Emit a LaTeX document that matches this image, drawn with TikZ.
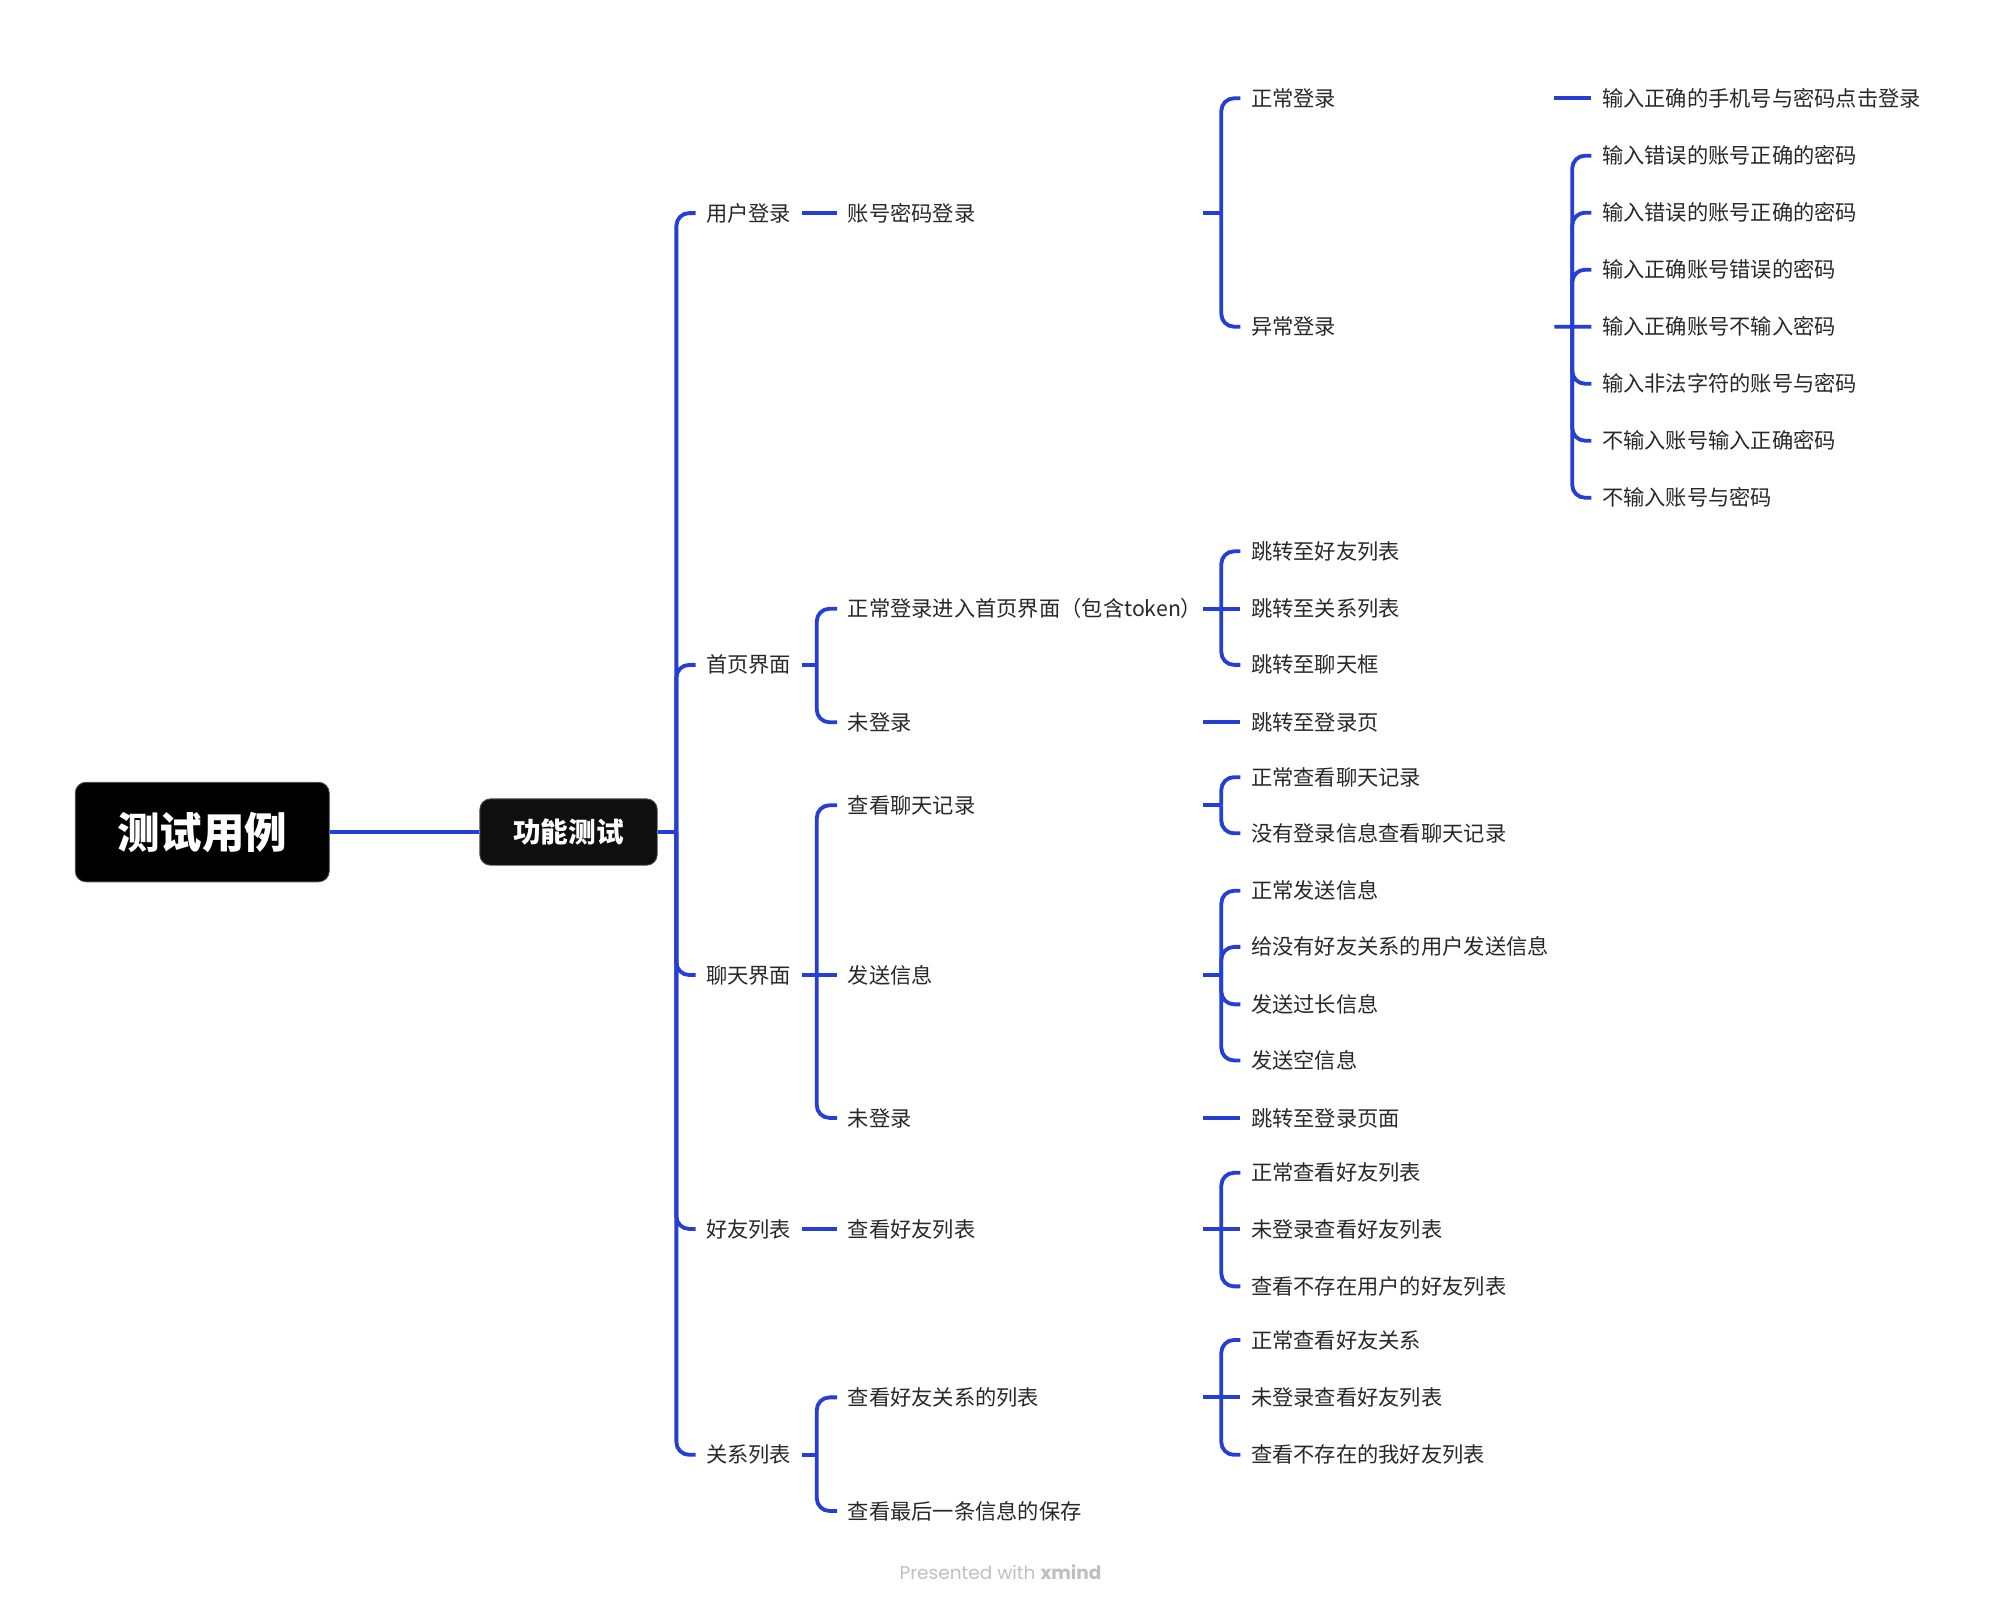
\documentclass[tikz,border=0pt]{standalone}
\usepackage{fontspec}
\setmainfont{Noto Sans CJK SC}
\newfontfamily\brandfont{Poppins}
\usepackage{tikz}
\usetikzlibrary{calc}
\definecolor{XmindBlue}{RGB}{36,62,214}
\definecolor{TopicGray}{RGB}{40,40,40}

\begin{document}
\begin{tikzpicture}[x=0.6pt,y=-0.6pt,
	topic/.style={anchor=west,inner xsep=4.8pt,inner ysep=0pt,text=TopicGray,
		font=\fontsize{10}{12}\selectfont,text height=0.88em,text depth=0.12em},
	branch/.style={XmindBlue,line width=1.8pt,rounded corners=6pt},
	mainbox/.style={fill=black,draw=black!70,rounded corners=5pt,text=white,inner sep=0pt}]
\useasboundingbox (0,0) rectangle (1568,1260);
% central topics
\node[mainbox,minimum width=119.4pt,minimum height=46.8pt,font=\fontsize{20}{24}\selectfont\bfseries] (root) at (158.5,652) {测试用例};
\node[mainbox,fill=black!94,minimum width=83.4pt,minimum height=31.2pt,font=\fontsize{13}{16}\selectfont\bfseries] (func) at (445.5,652) {功能测试};
% bracket columns
\coordinate (b2) at (530,0);
\coordinate (b3) at (640,0);
\coordinate (s4) at (943,0);
\coordinate (b4) at (957,0);
\coordinate (s5) at (1218,0);
\coordinate (b5) at (1232,0);
% level 2
\node[topic] (login) at (545,167) {用户登录};
\node[topic] (home) at (545,521) {首页界面};
\node[topic] (chat) at (545,764) {聊天界面};
\node[topic] (friend) at (545,963) {好友列表};
\node[topic] (relation) at (545,1140) {关系列表};
% level 3
\node[topic] (pwdlogin) at (656,167) {账号密码登录};
\node[topic] (homeok) at (656,477) {正常登录进入首页界面（包含token）};
\node[topic] (homeno) at (656,566) {未登录};
\node[topic] (chatlog) at (656,631) {查看聊天记录};
\node[topic] (chatsend) at (656,764) {发送信息};
\node[topic] (chatno) at (656,876) {未登录};
\node[topic] (friendview) at (656,963) {查看好友列表};
\node[topic] (relview) at (656,1095) {查看好友关系的列表};
\node[topic] (relsave) at (656,1184) {查看最后一条信息的保存};
% level 4
\node[topic] (loginok) at (972,77) {正常登录};
\node[topic] (loginerr) at (972,256) {异常登录};
\node[topic] (jfriend) at (972,432) {跳转至好友列表};
\node[topic] (jrelation) at (972,477) {跳转至关系列表};
\node[topic] (jchat) at (972,521) {跳转至聊天框};
\node[topic] (jlogin) at (972,566) {跳转至登录页};
\node[topic] (logok) at (972,609) {正常查看聊天记录};
\node[topic] (lognone) at (972,653) {没有登录信息查看聊天记录};
\node[topic] (sendok) at (972,698) {正常发送信息};
\node[topic] (sendstranger) at (972,742) {给没有好友关系的用户发送信息};
\node[topic] (sendlong) at (972,787) {发送过长信息};
\node[topic] (sendempty) at (972,831) {发送空信息};
\node[topic] (jloginpage) at (972,876) {跳转至登录页面};
\node[topic] (fviewok) at (972,919) {正常查看好友列表};
\node[topic] (fviewno) at (972,963) {未登录查看好友列表};
\node[topic] (fviewnone) at (972,1008) {查看不存在用户的好友列表};
\node[topic] (rviewok) at (972,1050) {正常查看好友关系};
\node[topic] (rviewno) at (972,1095) {未登录查看好友列表};
\node[topic] (rviewnone) at (972,1140) {查看不存在的我好友列表};
% level 5
\node[topic] (case0) at (1247,77) {输入正确的手机号与密码点击登录};
\foreach \t [count=\i] in {输入错误的账号正确的密码,输入错误的账号正确的密码,
	输入正确账号错误的密码,输入正确账号不输入密码,输入非法字符的账号与密码,
	不输入账号输入正确密码,不输入账号与密码}{
	\node[topic] (err\i) at (1247,{122+44.67*(\i-1)}) {\t};
}
% connectors
\draw[branch] (root.east) -- (func.west);
\draw[branch] (func.east) -- (b2 |- func);
\foreach \c in {login,home,chat,friend,relation}
	\draw[branch] (b2 |- func) -- (b2 |- \c) -- (\c.west);
\draw[branch] (login.east) -- (pwdlogin.west);
\draw[branch] (home.east) -- (b3 |- home);
\foreach \c in {homeok,homeno}
	\draw[branch] (b3 |- home) -- (b3 |- \c) -- (\c.west);
\draw[branch] (chat.east) -- (chatsend.west);
\foreach \c in {chatlog,chatno}
	\draw[branch] (b3 |- chat) -- (b3 |- \c) -- (\c.west);
\draw[branch] (friend.east) -- (friendview.west);
\draw[branch] (relation.east) -- (b3 |- relation);
\foreach \c in {relview,relsave}
	\draw[branch] (b3 |- relation) -- (b3 |- \c) -- (\c.west);
% level 3 -> 4
\draw[branch] (s4 |- pwdlogin) -- (b4 |- pwdlogin);
\foreach \c in {loginok,loginerr}
	\draw[branch] (b4 |- pwdlogin) -- (b4 |- \c) -- (\c.west);
\draw[branch] (s4 |- homeok) -- (jrelation.west);
\foreach \c in {jfriend,jchat}
	\draw[branch] (b4 |- homeok) -- (b4 |- \c) -- (\c.west);
\draw[branch] (s4 |- homeno) -- (jlogin.west);
\draw[branch] (s4 |- chatlog) -- (b4 |- chatlog);
\foreach \c in {logok,lognone}
	\draw[branch] (b4 |- chatlog) -- (b4 |- \c) -- (\c.west);
\draw[branch] (s4 |- chatsend) -- (b4 |- chatsend);
\foreach \c in {sendok,sendstranger,sendlong,sendempty}
	\draw[branch] (b4 |- chatsend) -- (b4 |- \c) -- (\c.west);
\draw[branch] (s4 |- chatno) -- (jloginpage.west);
\draw[branch] (s4 |- friendview) -- (fviewno.west);
\foreach \c in {fviewok,fviewnone}
	\draw[branch] (b4 |- friendview) -- (b4 |- \c) -- (\c.west);
\draw[branch] (s4 |- relview) -- (rviewno.west);
\foreach \c in {rviewok,rviewnone}
	\draw[branch] (b4 |- relview) -- (b4 |- \c) -- (\c.west);
% level 4 -> 5
\draw[branch] (s5 |- loginok) -- (case0.west);
\draw[branch] (s5 |- loginerr) -- (err4.west);
\foreach \i in {1,2,3,5,6,7}
	\draw[branch] (b5 |- loginerr) -- (b5 |- err\i) -- (err\i.west);
\node[text=black!25,font=\brandfont\fontsize{8.7}{10}\selectfont] (brand) at (784,1232) {Presented with \textbf{xmind}};
\end{tikzpicture}
\end{document}
